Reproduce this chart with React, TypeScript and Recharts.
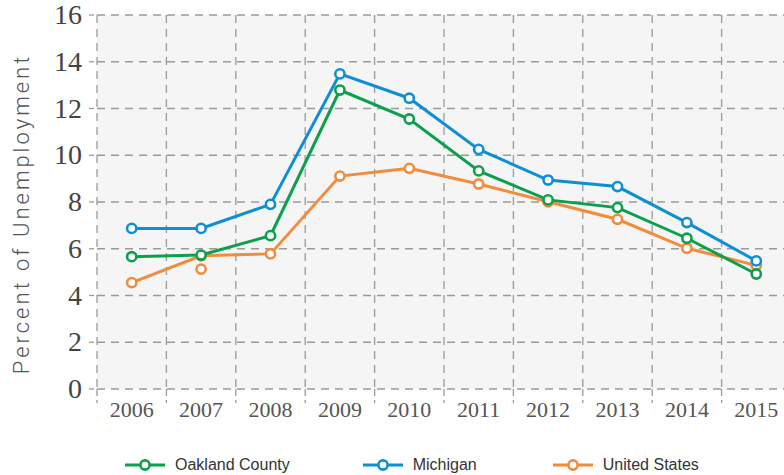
import React from "react";
import { LineChart, Line, XAxis, YAxis, CartesianGrid } from "recharts";

const years = [2006, 2007, 2008, 2009, 2010, 2011, 2012, 2013, 2014, 2015];
const oakland = [5.66, 5.73, 6.56, 12.79, 11.55, 9.33, 8.09, 7.76, 6.45, 4.92];
const michigan = [6.87, 6.87, 7.9, 13.48, 12.44, 10.25, 8.94, 8.66, 7.12, 5.48];
const unitedStates = [4.55, 5.7, 5.78, 9.11, 9.44, 8.77, 8.01, 7.26, 6.02, 5.29];
const unitedStatesExtra = [null, 5.13, null, null, null, null, null, null, null, null];
const yTicks = [0, 2, 4, 6, 8, 10, 12, 14, 16];
const bandEdges = [2005.5, 2006.5, 2007.5, 2008.5, 2009.5, 2010.5, 2011.5, 2012.5, 2013.5, 2014.5];
const xDomain: [number, number] = [2005.5, 2015.5];

const GREEN = "#0aa04c";
const BLUE = "#0e8fd3";
const ORANGE = "#f28b3b";
const SERIF = "'Liberation Serif', 'Times New Roman', Times, serif";

const series = [
  { key: "oakland", name: "Oakland County", color: GREEN },
  { key: "michigan", name: "Michigan", color: BLUE },
  { key: "us", name: "United States", color: ORANGE },
];

const data = years.map((year, i) => ({
  year,
  oakland: oakland[i],
  michigan: michigan[i],
  us: unitedStates[i],
  usExtra: unitedStatesExtra[i],
}));

const dotStyle = (color: string) => ({ r: 4.6, stroke: color, strokeWidth: 2.6, fill: "#ffffff" });

const YLabel = (props: any) => {
  const vb = props.viewBox || {};
  const cx = 21;
  const cy = (vb.y ?? 15) + (vb.height ?? 374) / 2 + 12;
  return (
    <text
      x={cx}
      y={cy}
      transform={`rotate(-90 ${cx} ${cy})`}
      textAnchor="middle"
      dominantBaseline="central"
      fill="#555555"
      style={{ fontFamily: "Roboto, 'Noto Sans', sans-serif", fontWeight: 300, fontSize: 22, letterSpacing: 3 }}
    >
      Percent of Unemployment
    </text>
  );
};

const XTick = (props: any) => {
  const { x, y, payload } = props;
  return (
    <text
      x={x}
      y={y}
      dy={17}
      textAnchor="middle"
      fill="#555555"
      style={{ fontFamily: SERIF, fontSize: 22 }}
    >
      {payload.value}
    </text>
  );
};

const YTick = (props: any) => {
  const { x, y, payload } = props;
  return (
    <text
      x={x}
      y={y}
      dy={9}
      textAnchor="end"
      fill="#444444"
      style={{ fontFamily: SERIF, fontSize: 28 }}
    >
      {payload.value}
    </text>
  );
};

const EmptyTick = () => <g />;

const verticalLines = (args: any) => {
  const axis = args?.xAxis;
  if (axis && typeof axis.scale === "function") {
    return bandEdges.map((v) => axis.scale(v));
  }
  const off = args?.offset || { left: 97, width: 694 };
  return bandEdges.map((v) => off.left + ((v - xDomain[0]) / (xDomain[1] - xDomain[0])) * off.width);
};

export default function App() {
  return (
    <div
      style={{
        position: "absolute",
        left: 0,
        top: 0,
        width: 784,
        height: 475,
        overflow: "hidden",
        background: "#ffffff",
      }}
    >
      <LineChart width={800} height={475} data={data} margin={{ top: 15, right: 9, left: 0, bottom: 45 }}>
        <CartesianGrid
          xAxisId="main"
          stroke="#9a9a9a"
          strokeWidth={1.3}
          strokeDasharray="8 6"
          fill="#f5f5f5"
          fillOpacity={1}
          verticalCoordinatesGenerator={verticalLines}
        />
        <XAxis
          xAxisId="grid"
          type="number"
          dataKey="year"
          domain={xDomain}
          ticks={bandEdges}
          interval={0}
          height={1}
          axisLine={false}
          tick={EmptyTick}
          tickSize={14}
          tickLine={{ stroke: "#9a9a9a", strokeWidth: 1.3, strokeDasharray: "3 4 9 40" }}
        />
        <XAxis
          xAxisId="main"
          type="number"
          dataKey="year"
          domain={xDomain}
          ticks={years}
          interval={0}
          height={40}
          axisLine={false}
          tickLine={false}
          tickSize={0}
          tickMargin={10}
          tick={<XTick />}
        />
        <YAxis
          width={97}
          domain={[0, 16]}
          ticks={yTicks}
          interval={0}
          axisLine={false}
          tickSize={8}
          tickMargin={7}
          tickLine={{ stroke: "#9a9a9a", strokeWidth: 1.3, strokeDasharray: "5 3" }}
          tick={<YTick />}
          label={<YLabel />}
        />
        <Line
          xAxisId="main"
          type="linear"
          dataKey="us"
          name="United States"
          stroke={ORANGE}
          strokeWidth={3}
          dot={dotStyle(ORANGE)}
          activeDot={false}
          isAnimationActive={false}
        />
        <Line
          xAxisId="main"
          type="linear"
          dataKey="usExtra"
          name="United States (2007 point)"
          stroke="none"
          dot={dotStyle(ORANGE)}
          activeDot={false}
          legendType="none"
          isAnimationActive={false}
        />
        <Line
          xAxisId="main"
          type="linear"
          dataKey="oakland"
          name="Oakland County"
          stroke={GREEN}
          strokeWidth={3}
          dot={dotStyle(GREEN)}
          activeDot={false}
          isAnimationActive={false}
        />
        <Line
          xAxisId="main"
          type="linear"
          dataKey="michigan"
          name="Michigan"
          stroke={BLUE}
          strokeWidth={3}
          dot={dotStyle(BLUE)}
          activeDot={false}
          isAnimationActive={false}
        />
      </LineChart>
      <div
        style={{
          position: "absolute",
          left: 125,
          top: 456,
          display: "flex",
          alignItems: "center",
          fontFamily: "'Liberation Sans', Arial, sans-serif",
          fontSize: 16,
          color: "#333333",
          whiteSpace: "nowrap",
        }}
      >
        {series.map((s, i) => (
          <div
            key={s.key}
            style={{ display: "flex", alignItems: "center", marginRight: i === 0 ? 73 : 76 }}
          >
            <svg width={40} height={14} style={{ display: "block" }}>
              <line x1={0} y1={7} x2={40} y2={7} stroke={s.color} strokeWidth={3} />
              <circle cx={20} cy={7} r={4.6} stroke={s.color} strokeWidth={2.6} fill="#ffffff" />
            </svg>
            <span style={{ marginLeft: 10 }}>{s.name}</span>
          </div>
        ))}
      </div>
    </div>
  );
}
